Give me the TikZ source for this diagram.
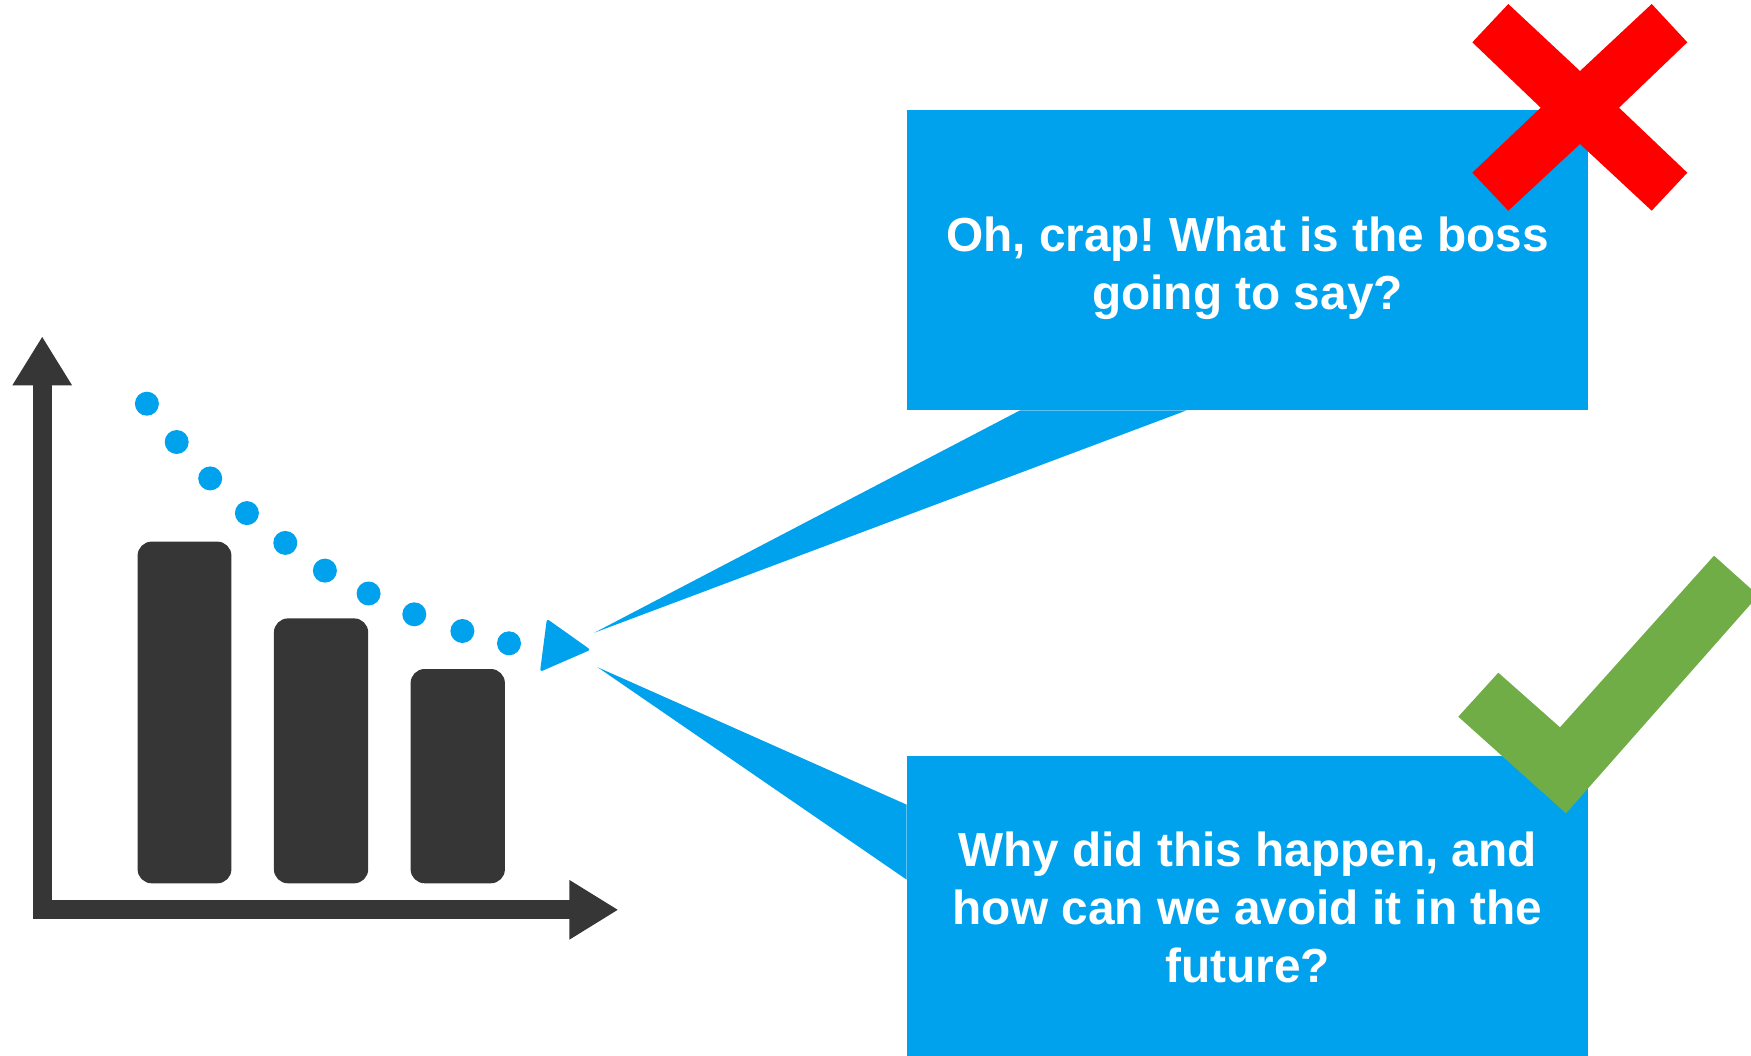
\documentclass[tikz,border=0pt]{standalone}
\usepackage{fontspec}
\setmainfont{Liberation Sans}
\frenchspacing
\usetikzlibrary{positioning, arrows.meta, calc}
\definecolor{calloutBlue}{HTML}{00A2ED}
\definecolor{chartGray}{HTML}{363636}
\definecolor{crossRed}{HTML}{FF0000}
\definecolor{tickGreen}{HTML}{70AD47}
\tikzset{
  callout/.style={fill=calloutBlue, minimum width=13.62cm, minimum height=6cm, inner sep=0pt,
                  text=white, font=\bfseries\fontsize{27.2}{32.9}\selectfont},
  wedge/.style={fill=calloutBlue},
  bar/.style={fill=chartGray, rounded corners=8pt},
  axis/.style={draw=chartGray, line width=0.38cm, line join=miter,
               {Triangle[length=0.98cm,width=1.12cm]}-{Triangle[length=0.98cm,width=1.12cm]}},
  trend/.style={fill=calloutBlue},
}
\newcommand{\callouttext}[2]{\raisebox{-#1}[\height][\depth]{\parbox{13cm}{\centering #2}}}

\begin{document}
\begin{tikzpicture}[x=0.02cm, y=-0.02cm]
  \useasboundingbox (0,0) rectangle (1751,1055);
  % chart
  \draw[axis] (42.2,336.3) -- (42.2,909.8) -- (618.4,909.8);
  \fill[bar] (137.6,541.6) rectangle (231.4,883.3);
  \fill[bar] (273.9,618.4) rectangle (368.2,883.3);
  \fill[bar] (410.6,669.0) rectangle (504.9,883.3);
  \foreach \px/\py in {146.9/403.7, 176.7/442.0, 210.2/478.4, 246.9/513.1, 285.3/542.9,
                       324.9/570.6, 368.6/593.5, 414.3/614.3, 462.4/631.0, 509.0/643.3}
    \fill[trend] (\px,\py) circle[radius=0.24cm];
  \fill[trend, rounded corners=1.5pt] (546.9,618.8) -- (590.6,649.8) -- (540.0,671.8) -- cycle;
  % callouts
  \coordinate (bosstip) at (594.3,632.7);
  \coordinate (whytip) at (597.7,667.3);
  \node[callout] (boss) at (1247.5,260) {\callouttext{0.16cm}{Oh, crap! What is the boss\\going to say?}};
  \node[callout] (why) at (1247.5,905.7) {\callouttext{0.04cm}{Why did this happen, and\\how can we avoid it in the\\future?}};
  \fill[wedge] (bosstip) -- ($(boss.south west)+(113.4,0)$) -- ($(boss.south west)+(280,0)$) -- cycle;
  \fill[wedge] (whytip) -- ($(why.north west)+(0,49.3)$) -- ($(why.north west)+(0,124.3)$) -- cycle;
  % marks
  \fill[crossRed] (1508.3,4) -- (1580,71) -- (1651.7,4) -- (1687.3,42.3) -- (1619,107.7)
    -- (1687.3,172.7) -- (1651.7,210.7) -- (1580,144) -- (1508.3,210.7) -- (1472.3,172.7)
    -- (1540.7,107.7) -- (1472.3,42.3) -- cycle;
  \fill[tickGreen] (1458.3,716.7) -- (1498.3,672.7) -- (1560,727.3) -- (1714,555.7)
    -- (1751,588.9) -- (1751,603.7) -- (1566,813.3) -- cycle;
\end{tikzpicture}
\end{document}
